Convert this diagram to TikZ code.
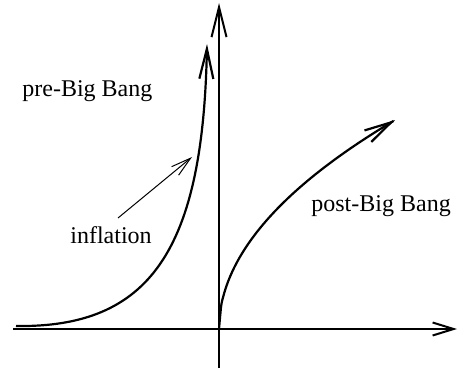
\documentclass[tikz,border=0pt]{standalone}
\usepackage{fontspec}
\setmainfont{Liberation Serif}
\usetikzlibrary{arrows.meta}

\begin{document}
\begin{tikzpicture}[x=0.5pt, y=-0.5pt,
  axis/.style={line width=1pt},
  curve/.style={line width=1.1pt},
  arr/.style={line width=0.5pt, -{Straight Barb[length=10pt, width=5.5pt]}},
  lbl/.style={anchor=base west, inner sep=0pt, font=\fontsize{12}{14}\selectfont}
]
\useasboundingbox (0,0) rectangle (458,368);

% axes
\coordinate (xl) at (13,329);
\coordinate (xr) at (457,329);
\coordinate (yb) at (219,368);
\coordinate (yt) at (219,3);
\coordinate (o)  at (219,329);
\draw[axis, -{Straight Barb[length=10.5pt, width=6.5pt]}] (xl) -- (xr);
\draw[axis, -{Straight Barb[length=15pt, width=7.5pt]}] (yb) -- (yt);

% before and after
\coordinate (prestart) at (16,326);
\coordinate (preend)   at (207,44);
\draw[curve, -{Straight Barb[length=15pt, width=7pt]}]
  (prestart) .. controls (150,328) and (203,250) .. (preend);
\draw[curve, -{Straight Barb[length=13.5pt, width=6.7pt]}]
  plot[domain=219:395, samples=80, smooth] (\x, {329-15.75*sqrt(\x-219)});

% labels
\node[lbl] (pre)  at (22,97)   {pre-Big Bang};
\node[lbl] (post) at (311,211) {post-Big Bang};
\node[lbl] (infl) at (70,243)  {inflation};

\coordinate (inffrom) at (118,218);
\coordinate (infto)   at (192,157);
\draw[arr] (inffrom) -- (infto);
\end{tikzpicture}
\end{document}
